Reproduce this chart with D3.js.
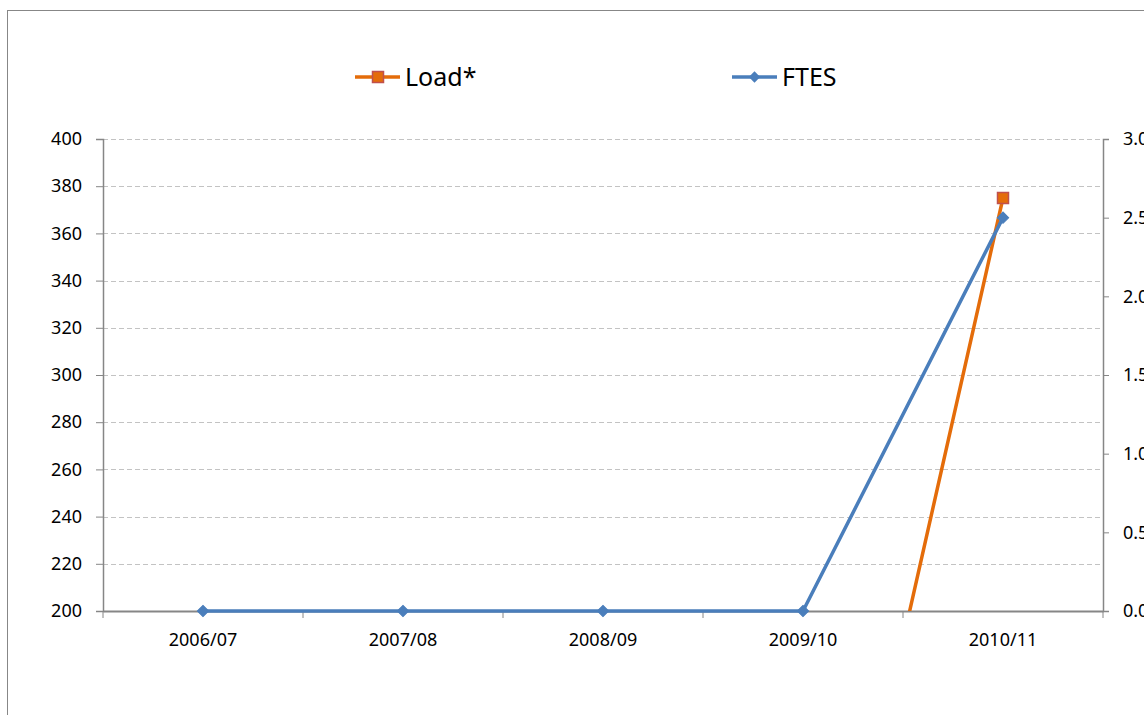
<!DOCTYPE html>
<html><head><meta charset="utf-8">
<script src="https://cdn.jsdelivr.net/npm/d3@7"></script>
<style>body{margin:0;background:#fff}svg{display:block}</style>
</head><body>
<script>
const categories = ["2006/07","2007/08","2008/09","2009/10","2010/11"];
const loadValues = [0,0,0,0,375];
const ftesValues = [0,0,0,0,2.5];
const leftTicks = [200,220,240,260,280,300,320,340,360,380,400];
const rightTicks = [0,0.5,1,1.5,2,2.5,3];
const seriesNames = ["Load*","FTES"];

const W=1144,H=715;
const svg=d3.select("body").append("svg").attr("width",W).attr("height",H);
const font="'Noto Sans', 'Open Sans', sans-serif";
const axisColor="#868686";
const pLeft=103,pRight=1103,pTop=139,pBottom=611;

svg.append("rect").attr("x",7.5).attr("y",10.5).attr("width",W).attr("height",H)
  .attr("fill","#fff").attr("stroke","#878787").attr("stroke-width",1);

const x=d3.scaleBand().domain(categories).range([pLeft,pRight]).padding(0);
const yL=d3.scaleLinear().domain([200,400]).range([pBottom,pTop]);
const yR=d3.scaleLinear().domain([0,3]).range([pBottom,pTop]);

svg.append("g").selectAll("line").data(leftTicks.slice(1)).join("line")
  .attr("x1",pLeft).attr("x2",pRight).attr("y1",d=>Math.round(yL(d))+0.5).attr("y2",d=>Math.round(yL(d))+0.5)
  .attr("stroke","#c3c3c3").attr("stroke-width",1).attr("stroke-dasharray","5,3");

const gL=svg.append("g").attr("transform",`translate(${pLeft},0)`)
  .call(d3.axisLeft(yL).tickValues(leftTicks).tickSize(7).tickPadding(14).tickFormat(d3.format("d")));
const gR=svg.append("g").attr("transform",`translate(${pRight},0)`)
  .call(d3.axisRight(yR).tickValues(rightTicks).tickSize(6).tickPadding(14).tickFormat(d3.format(".1f")));
const gB=svg.append("g").attr("transform",`translate(0,${pBottom})`)
  .call(d3.axisBottom(x).tickSize(0).tickPadding(22));
const bounds=categories.map(c=>x(c)).concat([pRight]);
gB.selectAll("line.bt").data(bounds).join("line").attr("class","bt")
  .attr("x1",d=>d).attr("x2",d=>d).attr("y1",0).attr("y2",7)
  .attr("stroke",axisColor).attr("stroke-width",1);

[gL,gR,gB].forEach(g=>{
  g.select(".domain").attr("stroke",axisColor).attr("stroke-width",1.5);
  g.selectAll(".tick line").attr("stroke",axisColor);
  g.selectAll("text").attr("font-family",font).attr("font-size",18).attr("fill","#000");
});
gB.select(".domain").attr("stroke-width",2);

svg.append("clipPath").attr("id","plot").append("rect")
  .attr("x",pLeft).attr("y",pTop-20).attr("width",pRight-pLeft+20).attr("height",pBottom-pTop+20);

const cx=c=>x(c)+x.bandwidth()/2;
const orange="#e46c0a", blue="#4a7ebb";

const loadData=categories.map((c,i)=>({c,v:loadValues[i]}));
const gLoad=svg.append("g").attr("clip-path","url(#plot)");
gLoad.append("path").datum(loadData)
  .attr("d",d3.line().x(d=>cx(d.c)).y(d=>yL(d.v)))
  .attr("fill","none").attr("stroke",orange).attr("stroke-width",3.5).attr("stroke-linejoin","round");
gLoad.selectAll("rect").data(loadData).join("rect")
  .attr("x",d=>cx(d.c)-5.5).attr("y",d=>yL(d.v)-5.5).attr("width",11).attr("height",11)
  .attr("fill",orange).attr("stroke","#c0504d").attr("stroke-width",1.5);

const ftesData=categories.map((c,i)=>({c,v:ftesValues[i]}));
const gF=svg.append("g");
gF.append("path").datum(ftesData)
  .attr("d",d3.line().x(d=>cx(d.c)).y(d=>yR(d.v)))
  .attr("fill","none").attr("stroke",blue).attr("stroke-width",3.5).attr("stroke-linejoin","round");
const diamond=d3.symbol().type(d3.symbolSquare).size(64);
gF.selectAll("path.m").data(ftesData).join("path").attr("class","m")
  .attr("transform",d=>`translate(${cx(d.c)},${yR(d.v)}) rotate(45)`)
  .attr("d",diamond).attr("fill",blue).attr("stroke",blue).attr("stroke-width",1);

const lg=svg.append("g");
const legendItems=[{name:seriesNames[0],x:355,color:orange,type:"sq"},{name:seriesNames[1],x:732,color:blue,type:"di"}];
legendItems.forEach(it=>{
  const g=lg.append("g").attr("transform",`translate(${it.x},77)`);
  g.append("line").attr("x1",0).attr("x2",45).attr("stroke",it.color).attr("stroke-width",3.5);
  if(it.type==="sq"){
    g.append("rect").attr("x",17.5).attr("y",-5.5).attr("width",11).attr("height",11)
      .attr("fill",it.color).attr("stroke","#c0504d").attr("stroke-width",1.5);
  } else {
    g.append("path").attr("transform","translate(22.5,0) rotate(45)").attr("d",diamond).attr("fill",it.color);
  }
  g.append("text").attr("x",50).attr("y",9).attr("font-family",font).attr("font-size",25)
    .attr("fill","#000").text(it.name);
});
</script>
</body></html>
